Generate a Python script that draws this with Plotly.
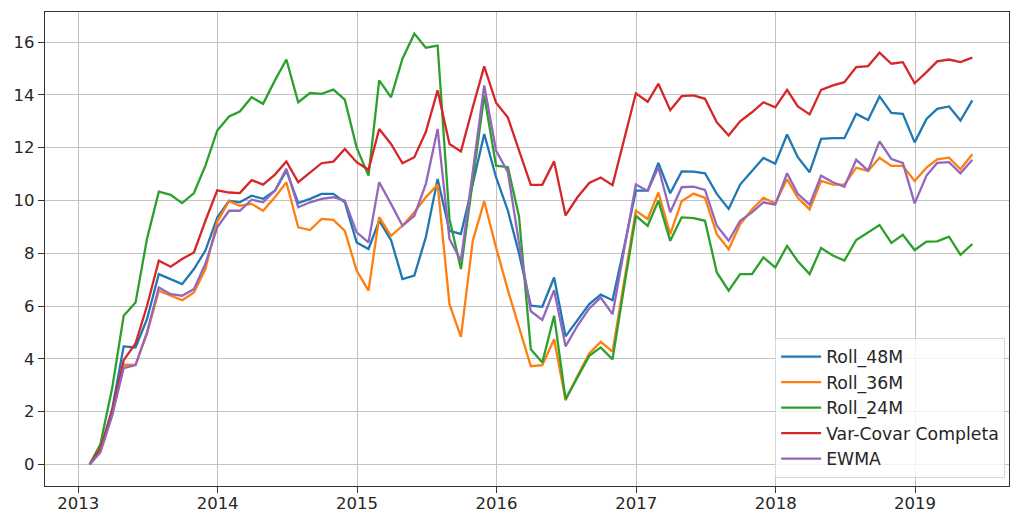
import pandas as pd
import plotly.graph_objects as go

try:
    dates = pd.date_range("2013-01-31", periods=77, freq="ME")
except Exception:
    dates = pd.date_range("2013-01-31", periods=77, freq="M")

roll_48m = [0.0, 0.55, 2.1, 4.47, 4.43, 5.5, 7.21, 7.02, 6.83, 7.4, 8.1, 9.35, 9.99,
            9.93, 10.18, 10.06, 10.37, 11.13, 9.9, 10.06, 10.25, 10.25, 9.93, 8.41, 8.16,
            9.23, 8.5, 7.02, 7.15, 8.6, 10.81, 8.85, 8.73, 10.62, 12.52, 10.88, 9.61,
            8.0, 6.01, 5.97, 7.08, 4.85, 5.44, 6.07, 6.43, 6.22, 8.22, 10.37, 10.37,
            11.42, 10.27, 11.1, 11.09, 11.03, 10.25, 9.68, 10.6, 11.13, 11.61, 11.39,
            12.5, 11.64, 11.07, 12.33, 12.36, 12.36, 13.28, 13.05, 13.94, 13.32, 13.28,
            12.2, 13.09, 13.47, 13.56, 13.03, 13.79]

roll_36m = [0.0, 0.5, 1.9, 3.78, 3.77, 4.95, 6.58, 6.39, 6.22, 6.51, 7.4, 9.2, 9.97,
            9.8, 9.87, 9.61, 10.12, 10.69, 8.98, 8.88, 9.3, 9.26, 8.85, 7.34, 6.58,
            9.37, 8.66, 9.04, 9.55, 10.12, 10.6, 6.07, 4.83, 8.47, 9.97, 8.22, 6.6,
            5.2, 3.72, 3.76, 4.74, 2.43, 3.35, 4.2, 4.64, 4.27, 6.83, 9.61, 9.3,
            10.3, 8.72, 9.97, 10.26, 10.1, 8.72, 8.15, 9.1, 9.66, 10.1, 9.89,
            10.8, 10.1, 9.66, 10.74, 10.6, 10.6, 11.24, 11.12, 11.62, 11.31, 11.31,
            10.74, 11.24, 11.56, 11.62, 11.18, 11.75]

roll_24m = [0.0, 0.76, 2.9, 5.63, 6.13, 8.54, 10.33, 10.21, 9.9, 10.28, 11.32, 12.65, 13.18,
            13.37, 13.91, 13.66, 14.55, 15.34, 13.72, 14.07, 14.04, 14.2, 13.82, 12.0, 10.94,
            14.55, 13.91, 15.37, 16.32, 15.79, 15.87, 9.3, 7.4, 10.7, 13.98, 11.32, 11.26,
            9.4, 4.36, 3.86, 5.63, 2.47, 3.29, 4.11, 4.43, 3.98, 6.7, 9.42, 9.04,
            9.99, 8.47, 9.36, 9.33, 9.23, 7.27, 6.58, 7.21, 7.21, 7.84, 7.46,
            8.28, 7.69, 7.21, 8.2, 7.91, 7.72, 8.5, 8.79, 9.07, 8.39, 8.7,
            8.12, 8.44, 8.45, 8.63, 7.94, 8.35]

var_covar = [0.0, 0.6, 2.0, 3.95, 4.58, 6.0, 7.72, 7.49, 7.78, 8.03, 9.23, 10.38, 10.3,
             10.28, 10.77, 10.6, 10.98, 11.48, 10.69, 11.07, 11.41, 11.47, 11.95, 11.45, 11.16,
             12.71, 12.14, 11.41, 11.64, 12.59, 14.17, 12.14, 11.86, 13.53, 15.08, 13.7, 13.14,
             11.9, 10.59, 10.59, 11.48, 9.43, 10.12, 10.66, 10.87, 10.58, 12.28, 14.06, 13.74,
             14.42, 13.42, 13.95, 13.98, 13.85, 12.96, 12.46, 13.0, 13.34, 13.72, 13.53,
             14.19, 13.56, 13.26, 14.19, 14.36, 14.48, 15.05, 15.09, 15.6, 15.18, 15.24,
             14.44, 14.86, 15.27, 15.34, 15.24, 15.41]

ewma = [0.0, 0.45, 1.85, 3.65, 3.76, 5.0, 6.7, 6.45, 6.39, 6.64, 7.6, 8.98, 9.61,
        9.61, 10.03, 9.93, 10.37, 11.2, 9.74, 9.93, 10.06, 10.12, 9.99, 8.79, 8.41,
        10.69, 9.87, 9.04, 9.42, 10.62, 12.71, 8.54, 7.72, 11.13, 14.36, 11.89, 11.07,
        8.4, 5.8, 5.47, 6.6, 4.47, 5.25, 5.91, 6.32, 5.69, 8.1, 10.6, 10.36,
        11.26, 9.55, 10.5, 10.52, 10.4, 9.04, 8.47, 9.23, 9.55, 9.93, 9.84,
        11.03, 10.25, 9.84, 10.94, 10.69, 10.52, 11.54, 11.13, 12.24, 11.57, 11.42,
        9.89, 10.94, 11.42, 11.45, 11.03, 11.54]

series_names = ["Roll_48M", "Roll_36M", "Roll_24M", "Var-Covar Completa", "EWMA"]
series_values = [roll_48m, roll_36m, roll_24m, var_covar, ewma]
colors = ["#1f77b4", "#ff7f0e", "#2ca02c", "#d62728", "#9467bd"]

fig = go.Figure()
for k, (name, vals, col) in enumerate(zip(series_names, series_values, colors)):
    fig.add_trace(go.Scatter(
        x=dates, y=vals, mode="lines", name=name,
        line=dict(color=col, width=2.3),
        legendgroup=f"g{k}",
    ))

font_family = "DejaVu Sans"
fsize = 16.5
fig.update_layout(
    width=1011, height=514,
    margin=dict(l=45, r=2, t=12, b=28),
    paper_bgcolor="white", plot_bgcolor="white",
    font=dict(family=font_family, size=fsize, color="#262626"),
    showlegend=True,
    legend=dict(
        x=0.996, y=0.017, xanchor="right", yanchor="bottom",
        bgcolor="rgba(255,255,255,0.8)", bordercolor="#d6d6d6", borderwidth=1,
        font=dict(family=font_family, size=17.3, color="#262626"),
        tracegroupgap=10, traceorder="normal", itemwidth=40,
    ),
)
fig.update_xaxes(
    type="date",
    range=["2012-10-06", "2019-09-04"],
    tick0="2013-01-01", dtick="M12", tickformat="%Y",
    showgrid=True, gridcolor="#c2c2c2", gridwidth=1.3,
    showline=True, linecolor="#333333", linewidth=1.3, mirror=True,
    ticks="outside", ticklen=6, tickwidth=1.3, tickcolor="#333333",
    tickfont=dict(family=font_family, size=fsize, color="#262626"),
    ticklabelstandoff=-4,
    zeroline=False, automargin=False,
)
fig.update_yaxes(
    range=[-0.82, 17.14],
    tick0=0, dtick=2,
    showgrid=True, gridcolor="#c2c2c2", gridwidth=1.3,
    showline=True, linecolor="#333333", linewidth=1.3, mirror=True,
    ticks="outside", ticklen=6, tickwidth=1.3, tickcolor="#333333",
    tickfont=dict(family=font_family, size=fsize, color="#262626"),
    zeroline=False, automargin=False,
)

fig.write_html(
    "out.html",
    config={"displayModeBar": False},
    post_script="document.body.style.margin='0px';document.body.style.overflow='hidden';",
)
